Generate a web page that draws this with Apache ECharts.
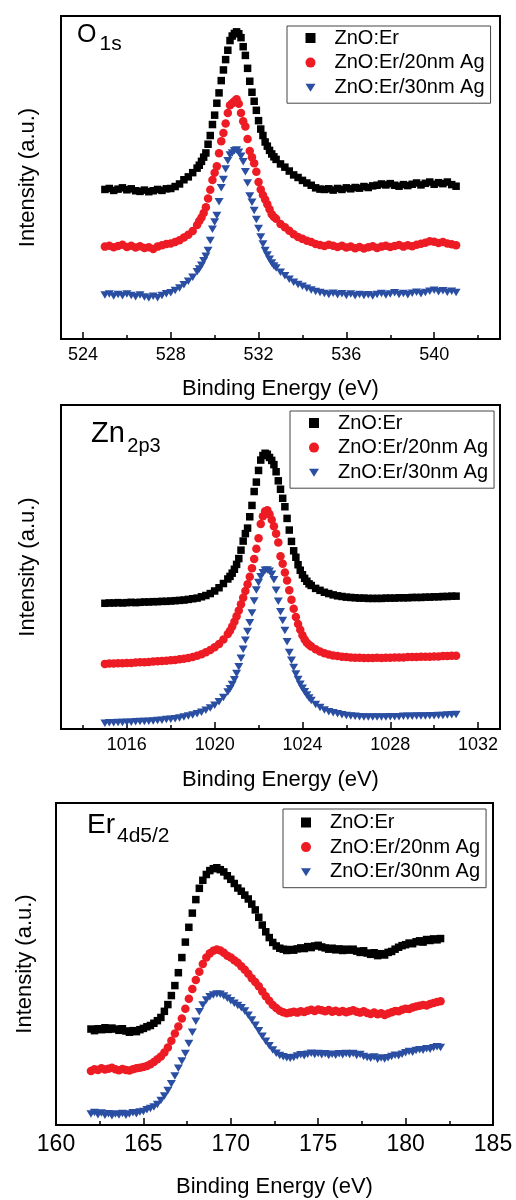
<!DOCTYPE html>
<html>
<head>
<meta charset="utf-8">
<title>XPS spectra</title>
<script src="https://cdn.jsdelivr.net/npm/echarts@6/dist/echarts.min.js"></script>
<style>
  html, body { margin: 0; padding: 0; background: #fff; }
  #chart { width: 516px; height: 1200px; }
</style>
</head>
<body>
<div id="chart"></div>
<script>
// ---- data (intensity in arbitrary units, 0-100 per panel) ----
const seriesNames = ['ZnO:Er', 'ZnO:Er/20nm Ag', 'ZnO:Er/30nm Ag']

// O 1s
const o1sEnergy = [
  525.0, 525.2, 525.4, 525.6, 525.8, 526.0, 526.2, 526.4, 526.6, 526.8,
  527.0, 527.2, 527.4, 527.6, 527.8, 528.0, 528.2, 528.4, 528.6, 528.8,
  529.0, 529.2,
  529.3, 529.4, 529.5, 529.6, 529.7, 529.8, 529.9, 530.0, 530.1, 530.2,
  530.3, 530.4, 530.5, 530.6, 530.7, 530.8, 530.9, 531.0, 531.1, 531.2,
  531.3, 531.4, 531.5, 531.6, 531.7, 531.8, 531.9, 532.0, 532.1, 532.2,
  532.3, 532.4, 532.5, 532.6, 532.7,
  532.8, 533.0, 533.2, 533.4, 533.6, 533.8, 534.0, 534.2, 534.4, 534.6,
  534.8, 535.0, 535.2, 535.4, 535.6, 535.8, 536.0, 536.2, 536.4, 536.6,
  536.8, 537.0, 537.2, 537.4, 537.6, 537.8, 538.0, 538.2, 538.4, 538.6,
  538.8, 539.0, 539.2, 539.4, 539.6, 539.8, 540.0, 540.2, 540.4, 540.6,
  540.8, 541.0
]
const o1sPlain = [
  46.3, 46.6, 46.0, 46.4, 46.8, 46.2, 46.5, 45.9, 45.7, 46.1,
  45.6, 45.9, 46.3, 46.0, 46.5, 46.6, 47.2, 48.0, 49.3, 50.2,
  51.5, 52.9,
  53.8, 55.0, 56.3, 57.6, 60.3, 63.0, 66.4, 69.3, 73.0, 76.2,
  80.0, 83.3, 86.5, 89.4, 92.4, 93.8, 94.6, 95.1, 94.5, 93.3,
  90.5, 87.8, 83.8, 79.8, 76.4, 73.6, 70.8, 67.6, 65.0, 63.0,
  61.0, 59.7, 58.4, 57.3, 56.4,
  55.6, 54.2, 53.2, 52.0, 50.8, 50.0, 49.1, 48.3, 47.6, 46.8,
  46.4, 46.3, 46.5, 46.1, 46.6, 46.3, 46.8, 46.5, 46.9, 46.7,
  47.2, 46.9, 47.4, 47.6, 48.0, 47.7, 48.1, 47.6, 47.3, 47.8,
  47.5, 47.9, 48.3, 47.7, 48.2, 48.6, 47.9, 48.4, 48.1, 48.6,
  47.8, 47.3
]
const o1s20nm = [
  28.6, 28.9, 28.4, 28.8, 29.2, 28.5, 28.9, 28.3, 28.7, 28.2,
  28.4, 27.9, 28.6, 29.0, 29.4, 29.6, 30.0, 30.6, 31.4, 32.3,
  33.4, 35.3,
  36.5, 37.6, 39.0, 40.8, 43.5, 46.2, 49.2, 51.5, 53.5, 57.5,
  61.2, 63.8, 66.7, 70.0, 72.4, 73.0, 73.6, 74.2, 72.8, 70.0,
  67.4, 65.8, 61.9, 58.2, 56.3, 54.4, 51.8, 48.6, 46.3, 44.6,
  43.2, 41.7, 40.2, 38.6, 37.8,
  37.2, 35.6, 34.6, 33.5, 32.4, 31.6, 31.0, 30.4, 30.0, 29.4,
  29.1, 28.8, 29.2, 28.9, 28.5, 28.9, 28.3, 28.6, 28.1, 28.5,
  28.0, 28.4, 28.7, 28.2, 28.6, 28.9, 28.5, 28.8, 29.1, 28.6,
  29.0, 28.7, 29.2, 29.5, 29.8, 30.3, 30.1, 29.7, 30.0, 29.6,
  29.3, 29.0
]
const o1s30nm = [
  13.6, 13.9, 13.3, 13.8, 13.4, 13.9, 13.5, 13.1, 13.6, 13.0,
  12.7, 13.2, 12.8, 13.5, 14.0, 14.3, 15.0, 15.8, 16.8, 17.9,
  19.1, 20.8,
  21.7, 22.8, 24.2, 25.6, 27.4, 30.5, 34.0, 36.2, 38.2, 42.5,
  46.8, 49.4, 52.6, 55.2, 57.0, 57.6, 58.3, 58.5, 57.8, 56.6,
  54.9, 51.8, 48.3, 44.3, 42.3, 39.8, 37.0, 34.2, 31.6, 29.4,
  27.4, 26.0, 24.7, 23.5, 22.6,
  22.0, 20.7, 19.6, 18.5, 17.6, 16.9, 16.3, 15.7, 15.2, 14.7,
  14.4, 14.1, 13.8, 14.2, 13.7, 14.0, 13.5, 13.9, 13.4, 13.8,
  13.5, 13.7, 13.3, 13.8, 14.1, 13.6, 13.9, 14.3, 13.8, 14.1,
  13.7, 14.2, 14.5, 14.0, 14.4, 14.8, 15.1, 14.6, 14.9, 14.5,
  14.8, 14.4
]
const o1sTicks = [524, 528, 532, 536, 540]
const o1sMinorTicks = [526, 530, 534, 538, 542]

// Zn 2p3
const znEnergy = [
  1015.0, 1015.2, 1015.4, 1015.6, 1015.8, 1016.0, 1016.2, 1016.4, 1016.6, 1016.8,
  1017.0, 1017.2, 1017.4, 1017.6, 1017.8, 1018.0, 1018.2, 1018.4, 1018.6, 1018.8,
  1019.0, 1019.2, 1019.4, 1019.6, 1019.8, 1020.0, 1020.2, 1020.4, 1020.6,
  1020.7, 1020.8, 1020.9, 1021.0, 1021.1, 1021.2, 1021.3, 1021.4, 1021.5, 1021.6,
  1021.7, 1021.8, 1021.9, 1022.0, 1022.1, 1022.2, 1022.3, 1022.4, 1022.5, 1022.6,
  1022.7, 1022.8, 1022.9, 1023.0, 1023.1, 1023.2, 1023.3, 1023.4, 1023.5, 1023.6,
  1023.7, 1023.8, 1023.9, 1024.0, 1024.1, 1024.2, 1024.3,
  1024.4, 1024.6, 1024.8, 1025.0, 1025.2, 1025.4, 1025.6, 1025.8, 1026.0, 1026.2,
  1026.4, 1026.6, 1026.8, 1027.0, 1027.2, 1027.4, 1027.6, 1027.8, 1028.0, 1028.2,
  1028.4, 1028.6, 1028.8, 1029.0, 1029.2, 1029.4, 1029.6, 1029.8, 1030.0, 1030.2,
  1030.4, 1030.6, 1030.8, 1031.0
]
const znPlain = [
  38.8, 38.9, 38.9, 39.0, 38.9, 39.0, 39.1, 39.0, 39.1, 39.2,
  39.2, 39.3, 39.3, 39.4, 39.4, 39.5, 39.6, 39.7, 39.8, 40.0,
  40.2, 40.4, 40.8, 41.2, 41.8, 42.6, 43.6, 44.9, 46.3,
  47.1, 48.1, 49.3, 50.8, 52.6, 55.2, 58.0, 60.3, 62.0, 65.5,
  69.0, 73.3, 76.2, 79.8, 83.0, 84.4, 85.1, 84.8, 83.8, 82.9,
  81.6, 79.4, 76.6, 74.0, 71.2, 68.6, 65.0, 61.4, 57.9, 55.0,
  53.0, 50.7, 49.0, 47.6, 46.5, 45.6, 44.8,
  44.3, 43.4, 42.8, 42.2, 41.8, 41.4, 41.1, 40.9, 40.7, 40.6,
  40.5, 40.4, 40.4, 40.3, 40.3, 40.3, 40.3, 40.4, 40.4, 40.4,
  40.5, 40.5, 40.5, 40.6, 40.6, 40.6, 40.7, 40.7, 40.8, 40.8,
  40.9, 40.9, 41.0, 41.0
]
const zn20nm = [
  20.1, 20.2, 20.2, 20.3, 20.3, 20.4, 20.4, 20.5, 20.6, 20.6,
  20.7, 20.8, 20.9, 21.0, 21.1, 21.2, 21.3, 21.5, 21.7, 21.9,
  22.2, 22.6, 23.1, 23.7, 24.4, 25.2, 26.2, 27.6, 29.3,
  30.3, 31.6, 33.1, 34.8, 36.6, 38.5, 40.5, 42.6, 44.7, 47.0,
  49.6, 52.5, 55.6, 58.9, 63.3, 65.7, 67.2, 67.5, 66.3, 64.6,
  62.6, 60.3, 57.6, 53.3, 51.0, 48.3, 45.8, 42.8, 39.9, 37.1,
  34.6, 32.4, 30.6, 28.9, 27.6, 26.6, 26.0,
  25.5, 24.6, 23.9, 23.4, 23.0, 22.7, 22.5, 22.3, 22.2, 22.1,
  22.0, 22.0, 21.9, 21.9, 21.9, 22.0, 21.9, 22.0, 22.0, 22.1,
  22.1, 22.1, 22.2, 22.2, 22.2, 22.3, 22.3, 22.3, 22.4, 22.4,
  22.5, 22.5, 22.6, 22.6
]
const zn30nm = [
  1.8, 1.9, 1.9, 2.0, 2.0, 2.1, 2.1, 2.2, 2.3, 2.3,
  2.4, 2.5, 2.6, 2.7, 2.9, 3.0, 3.2, 3.4, 3.7, 4.0,
  4.3, 4.7, 5.2, 5.8, 6.5, 7.3, 8.4, 9.7, 11.4,
  12.4, 13.7, 15.2, 17.1, 19.2, 21.8, 24.6, 27.4, 30.1, 32.8,
  35.8, 39.5, 42.9, 45.2, 47.0, 48.2, 49.0, 49.1, 48.7, 47.8,
  46.1, 42.8, 39.4, 36.2, 33.5, 30.4, 26.9, 23.6, 21.2, 19.0,
  17.0, 15.3, 13.8, 12.6, 11.5, 10.5, 9.6,
  8.8, 7.6, 6.6, 5.9, 5.3, 5.0, 4.7, 4.4, 4.2, 4.0,
  3.9, 3.8, 3.7, 3.7, 3.7, 3.7, 3.7, 3.7, 3.8, 3.8,
  3.8, 3.9, 3.9, 3.9, 4.0, 4.0, 4.0, 4.1, 4.1, 4.2,
  4.2, 4.3, 4.4, 4.5
]
const znTicks = [1016, 1020, 1024, 1028, 1032]
const znMinorTicks = [1014, 1018, 1022, 1026, 1030]

// Er 4d5/2
const erEnergy = [
  162.0, 162.2, 162.4, 162.6, 162.8, 163.0, 163.2, 163.4, 163.6, 163.8,
  164.0, 164.2, 164.4, 164.6, 164.8, 165.0, 165.2, 165.4, 165.6, 165.8,
  166.0, 166.2, 166.4, 166.6, 166.8, 167.0, 167.2, 167.4, 167.6, 167.8,
  168.0, 168.2, 168.4, 168.6, 168.8, 169.0, 169.2, 169.4, 169.6, 169.8,
  170.0, 170.2, 170.4, 170.6, 170.8, 171.0, 171.2, 171.4, 171.6, 171.8,
  172.0, 172.2, 172.4, 172.6, 172.8, 173.0, 173.2, 173.4, 173.6, 173.8,
  174.0, 174.2, 174.4, 174.6, 174.8, 175.0, 175.2, 175.4, 175.6, 175.8,
  176.0, 176.2, 176.4, 176.6, 176.8, 177.0, 177.2, 177.4, 177.6, 177.8,
  178.0, 178.2, 178.4, 178.6, 178.8, 179.0, 179.2, 179.4, 179.6, 179.8,
  180.0, 180.2, 180.4, 180.6, 180.8, 181.0, 181.2, 181.4, 181.6, 181.8,
  182.0
]
const erPlain = [
  29.8, 29.3, 29.9, 29.6, 30.2, 29.7, 30.1, 29.8, 29.4, 29.9,
  29.2, 28.8, 29.3, 29.0, 29.6, 30.0, 30.5, 30.9, 31.6, 32.4,
  33.4, 35.3, 37.4, 40.2, 43.3, 47.3, 52.0, 56.8, 61.4, 65.8,
  70.0, 73.5, 76.0, 77.8, 79.0, 79.6, 79.9, 79.3, 78.6, 77.4,
  76.3, 75.0, 73.6, 72.6, 71.4, 70.2, 68.6, 66.8, 64.5, 62.1,
  60.0, 58.2, 56.7, 55.6, 54.9, 54.6, 54.2, 54.5, 54.3, 54.7,
  55.0, 54.8, 55.4, 55.1, 55.6, 55.8, 55.3, 55.0, 54.6, 54.9,
  54.4, 54.7, 54.2, 54.6, 54.3, 54.6, 54.0, 53.6, 54.1, 53.4,
  53.0, 53.5, 52.6, 53.2, 52.8, 53.6, 53.9, 54.6, 55.2, 55.7,
  56.0, 56.5, 56.3, 56.9, 57.2, 56.8, 57.6, 57.3, 57.8, 57.5,
  57.9
]
const er20nm = [
  16.8, 17.3, 17.1, 17.6, 17.2, 17.5, 17.8, 17.3, 17.0, 17.4,
  17.1, 16.9, 17.3, 17.6, 17.8, 18.0, 18.3, 18.9, 19.6, 20.4,
  21.3, 22.5, 24.1, 26.2, 28.4, 30.6, 33.1, 36.1, 39.2, 42.2,
  45.0, 47.6, 50.0, 52.0, 53.3, 54.1, 54.5, 54.2, 53.5, 52.6,
  52.0, 51.2, 50.4, 49.3, 48.2, 47.0, 45.6, 44.4, 43.1, 41.5,
  40.0, 38.6, 37.3, 36.3, 35.5, 35.0, 34.7, 34.9, 35.2, 34.9,
  35.3, 35.1, 35.5, 35.8, 35.4, 35.9, 35.6, 35.3, 35.7, 35.2,
  35.5, 35.1, 35.4, 35.0, 35.3, 35.6, 35.2, 34.9, 35.3, 34.8,
  34.5, 34.9, 34.4, 34.7, 34.2, 34.6, 35.0, 35.4, 35.3, 35.8,
  36.1, 36.0, 36.5, 36.8, 37.0, 37.3, 37.1, 37.6, 37.9, 38.2,
  38.4
]
const er30nm = [
  3.4, 3.9, 3.2, 3.7, 3.0, 3.5, 2.9, 3.4, 3.1, 3.6,
  3.0, 3.4, 3.8, 3.5, 4.0, 4.2, 4.7, 5.1, 5.6, 6.4,
  7.6, 9.0, 10.7, 12.8, 15.2, 17.6, 19.9, 22.2, 25.3, 28.8,
  32.2, 35.2, 37.3, 38.8, 39.8, 40.4, 40.7, 40.6, 40.1, 39.4,
  38.6, 37.8, 37.1, 36.4, 35.4, 34.1, 32.6, 31.0, 29.3, 27.6,
  26.0, 24.6, 23.3, 22.3, 21.6, 21.2, 20.9, 20.7, 21.0, 21.4,
  21.8, 21.5, 22.0, 22.3, 21.9, 22.2, 21.8, 22.1, 21.6, 22.0,
  21.7, 22.1, 21.8, 22.2, 21.9, 22.2, 21.6, 21.9, 21.3, 21.0,
  20.7, 21.1, 20.4, 20.8, 20.5, 20.9, 21.3, 21.7, 21.5, 22.0,
  22.4, 22.8, 22.6, 23.1, 23.4, 23.2, 23.7, 23.5, 24.0, 24.3,
  24.1
]
const erTicks = [160, 165, 170, 175, 180, 185]
const erMinorTicks = [162.5, 167.5, 172.5, 177.5, 182.5]

// ---- styling ----
const FONT = '"Liberation Sans", Arial, Helvetica, sans-serif'
const markers = [
  { symbol: 'rect', symbolSize: 7.5, color: '#000000' },
  { symbol: 'circle', symbolSize: 8.5, color: '#ed1c24' },
  { symbol: 'triangle', symbolSize: [9, 7.5], symbolRotate: 180, color: '#2a4ea2' }
]
// legend icons (the last one points down; the extra points keep a 10x10 box)
const legendIcons = [
  'path://M0,0H10V10H0Z',
  'path://M5,0A5,5,0,1,1,5,10A5,5,0,1,1,5,0Z',
  'path://M0,1.5L10,1.5L5,9.5ZM0,0L0,0ZM10,10L10,10Z'
]

// legend content is laid out from the icon's own box, so the left padding
// also carries the space in front of the marker
const panels = [
  {
    element: 'O', orbital: '1s', energy: o1sEnergy, values: [o1sPlain, o1s20nm, o1s30nm],
    xMin: 523, xMax: 543, ticks: o1sTicks, minor: o1sMinorTicks,
    grid: { left: 61, top: 16, width: 439, height: 323 },
    tickFont: 18, labelMargin: 7, xNameGap: 39, yNameGap: 22,
    legend: { left: 287, top: 26, padding: [2, 6, 6, 18.5] },
    title: { left: 77, top: 22.5, size: 25, lh: 30, sub: 21, drop: 11.2, gap: 3 }
  },
  {
    element: 'Zn', orbital: '2p3', energy: znEnergy, values: [znPlain, zn20nm, zn30nm],
    xMin: 1013, xMax: 1033, ticks: znTicks, minor: znMinorTicks,
    grid: { left: 61, top: 405, width: 439, height: 324 },
    tickFont: 18, labelMargin: 7, xNameGap: 40, yNameGap: 22,
    legend: { left: 290, top: 411, padding: [2, 6, 6, 19] },
    title: { left: 91, top: 419, size: 29, lh: 34, sub: 20, drop: 17, gap: 2.5 }
  },
  {
    element: 'Er', orbital: '4d5/2', energy: erEnergy, values: [erPlain, er20nm, er30nm],
    xMin: 160, xMax: 185, ticks: erTicks, minor: erMinorTicks,
    grid: { left: 56, top: 803, width: 437, height: 322 },
    tickFont: 23, labelMargin: 8, xNameGap: 51, yNameGap: 20,
    legend: { left: 283, top: 809, padding: [3.5, 6, 6, 18] },
    title: { left: 87, top: 811.5, size: 28, lh: 33, sub: 21, drop: 14.3, gap: 2 }
  }
]

function pairs(xs, ys) {
  if (xs.length !== ys.length) console.warn('length mismatch', xs.length, ys.length)
  return xs.map((x, i) => [x, ys[i]])
}

const tickLine = { color: '#000', width: 1.5 }
const plainNumber = v => String(v)

const option = {
  animation: false,
  backgroundColor: '#fff',
  textStyle: { fontFamily: FONT, color: '#000' },
  title: panels.map(p => ({
    text: '{m|' + p.element + '}{s|' + p.orbital + '}',
    left: p.title.left,
    top: p.title.top,
    padding: 0,
    textStyle: {
      fontWeight: 'normal',
      rich: {
        m: { fontSize: p.title.size, lineHeight: p.title.lh, verticalAlign: 'top', fontWeight: 'normal', color: '#000', fontFamily: FONT },
        s: { fontSize: p.title.sub, lineHeight: p.title.sub, verticalAlign: 'top', fontWeight: 'normal', padding: [p.title.drop, 0, 0, p.title.gap], color: '#000', fontFamily: FONT }
      }
    }
  })),
  grid: panels.map(p => Object.assign({
    show: true, borderColor: '#000', borderWidth: 2, backgroundColor: 'transparent',
    containLabel: false, outerBoundsMode: 'none'
  }, p.grid)),
  xAxis: panels.map((p, i) => ({
    type: 'value', gridIndex: i, position: 'bottom', min: p.xMin, max: p.xMax,
    axisLine: { show: false },
    splitLine: { show: false },
    axisTick: { show: true, inside: true, length: 7, customValues: p.ticks, lineStyle: tickLine },
    axisLabel: { show: true, customValues: p.ticks, formatter: plainNumber, fontSize: p.tickFont, color: '#000', margin: p.labelMargin, fontFamily: FONT },
    name: 'Binding Energy (eV)', nameLocation: 'middle', nameGap: p.xNameGap, nameMoveOverlap: false,
    nameTextStyle: { fontSize: 22, color: '#000', fontFamily: FONT }
  })).concat(panels.map((p, i) => ({
    // minor ticks between the labelled ones
    type: 'value', gridIndex: i, position: 'bottom', min: p.xMin, max: p.xMax,
    axisLine: { show: false },
    splitLine: { show: false },
    axisLabel: { show: false },
    axisTick: { show: true, inside: true, length: 4, customValues: p.minor, lineStyle: tickLine }
  }))),
  yAxis: panels.map((p, i) => ({
    type: 'value', gridIndex: i, min: 0, max: 100,
    axisLine: { show: false }, axisTick: { show: false }, axisLabel: { show: false }, splitLine: { show: false },
    name: 'Intensity (a.u.)', nameLocation: 'middle', nameGap: p.yNameGap, nameMoveOverlap: false,
    nameTextStyle: { fontSize: 22, color: '#000', fontFamily: FONT }
  })),
  legend: panels.map(p => ({
    orient: 'vertical',
    left: p.legend.left,
    top: p.legend.top,
    padding: p.legend.padding,
    itemWidth: 38,
    itemHeight: 10,
    itemGap: 4.6,
    borderColor: '#444',
    borderWidth: 1,
    selectedMode: false,
    textStyle: { fontSize: 20, lineHeight: 20, color: '#000', fontFamily: FONT },
    data: seriesNames.map((n, k) => ({ name: n, icon: legendIcons[k], iconRotate: 0 }))
  })),
  series: []
}

panels.forEach((p, i) => {
  p.values.forEach((vals, k) => {
    option.series.push({
      name: seriesNames[k],
      type: 'scatter',
      xAxisIndex: i,
      yAxisIndex: i,
      symbol: markers[k].symbol,
      symbolSize: markers[k].symbolSize,
      symbolRotate: markers[k].symbolRotate || 0,
      itemStyle: { color: markers[k].color, opacity: 1 },
      emphasis: { disabled: true },
      data: pairs(p.energy, vals)
    })
  })
})

const chart = echarts.init(document.getElementById('chart'), null, { renderer: 'canvas' })
chart.setOption(option)
</script>
</body>
</html>
